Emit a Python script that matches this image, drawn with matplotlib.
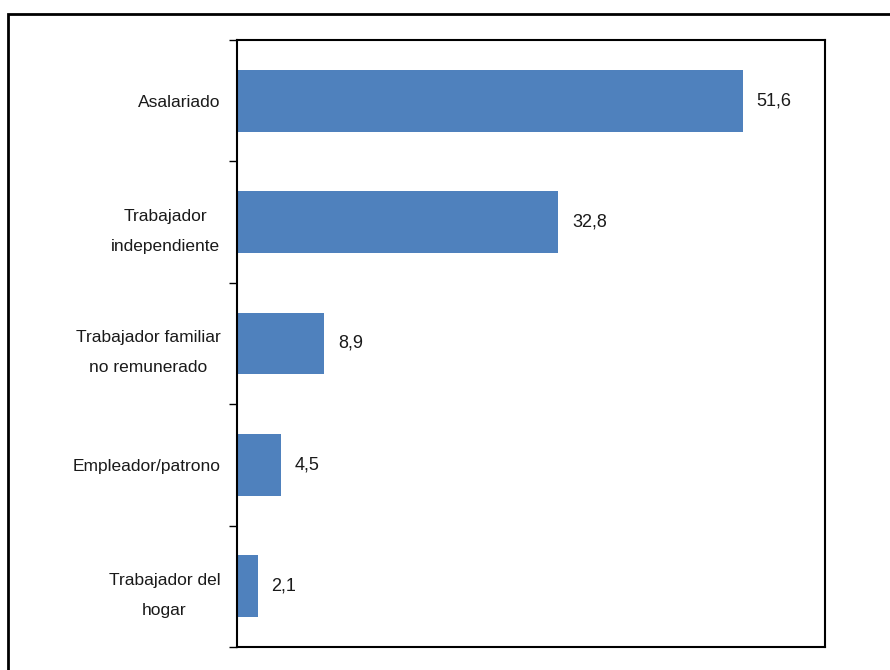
import matplotlib.pyplot as plt
from matplotlib.patches import Rectangle

categories = [
    "Asalariado",
    "Trabajador\nindependiente",
    "Trabajador familiar\nno remunerado",
    "Empleador/patrono",
    "Trabajador del\nhogar",
]
values = [51.6, 32.8, 8.9, 4.5, 2.1]
value_labels = ["51,6", "32,8", "8,9", "4,5", "2,1"]

plt.rcParams["font.family"] = ["Liberation Sans Narrow", "Liberation Sans", "DejaVu Sans"]

fig = plt.figure(figsize=(8.9, 6.7), dpi=100)
ax = fig.add_axes([237 / 890, 1 - 647 / 670, 588 / 890, 607 / 670])

# outer chart border (cropped at right/bottom like the original)
fig.patches.append(Rectangle((8 / 890, -0.1), 1.2, 1 - 14 / 670 + 0.1,
                             transform=fig.transFigure, fill=False,
                             edgecolor="black", linewidth=2))

pos = list(range(len(categories)))
ax.barh(pos, values, height=0.51, color="#4F81BD")
for p, v, lab in zip(pos, values, value_labels):
    ax.text(v + 1.4, p, lab, va="center", ha="left", fontsize=13,
            color="#1a1a1a")

ax.set_xlim(0, 60)
ax.set_ylim(len(categories) - 0.5, -0.5)
ax.set_xticks([])
ax.set_yticks(pos)
ax.set_yticklabels(categories, fontsize=12.5, multialignment="center",
                   color="#1a1a1a", linespacing=2.25)
ax.tick_params(axis="y", which="major", length=0, pad=12)
ax.set_yticks([i - 0.5 for i in range(len(categories) + 1)], minor=True)
ax.tick_params(axis="y", which="minor", length=6, width=1)
for s in ax.spines.values():
    s.set_linewidth(1.5)

fig.savefig("out.png", dpi=100)
